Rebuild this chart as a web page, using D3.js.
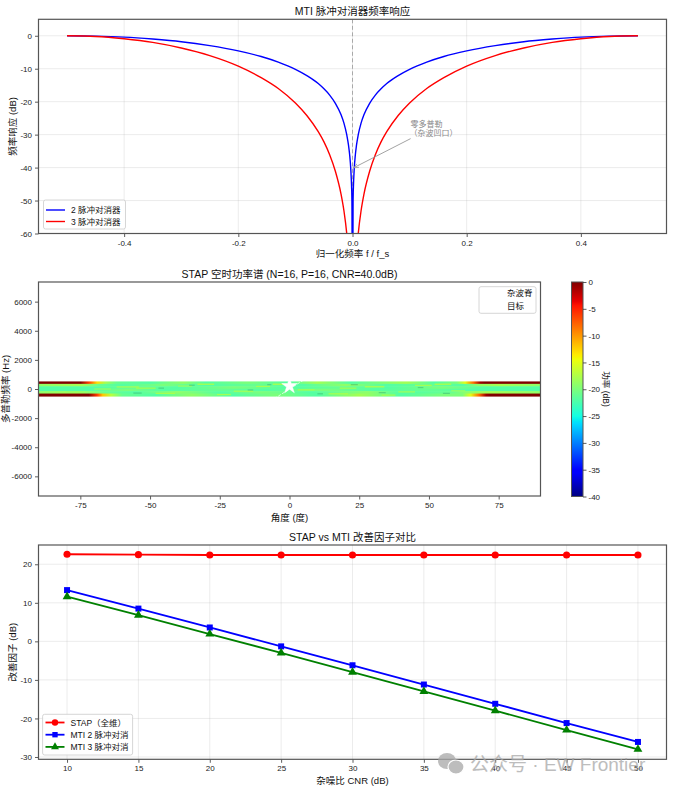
<!DOCTYPE html>
<html>
<head>
<meta charset="utf-8">
<script src="https://cdn.jsdelivr.net/npm/d3@7"></script>
<style>
  body { margin: 0; background: #fff; }
  svg { display: block; }
</style>
</head>
<body>
<script>
// ---------- data ----------

// MTI canceller frequency response (normalised frequency, dB)
const mtiFreq = [-0.5, -0.45, -0.4, -0.35, -0.3, -0.25, -0.2, -0.16, -0.13, -0.1, -0.08, -0.06, -0.05, -0.04, -0.03, -0.02, -0.015, -0.01, -0.007, -0.005, -0.003, -0.002, -0.001, 0,
                 0.001, 0.002, 0.003, 0.005, 0.007, 0.01, 0.015, 0.02, 0.03, 0.04, 0.05, 0.06, 0.08, 0.1, 0.13, 0.16, 0.2, 0.25, 0.3, 0.35, 0.4, 0.45, 0.5];
const mti2Resp = [0, -0.1, -0.4, -1.0, -1.8, -3.0, -4.6, -6.3, -8.0, -10.2, -12.1, -14.5, -16.1, -18.0, -20.5, -24.0, -26.5, -30.1, -33.2, -36.1, -40.5, -44.0, -50.1, -100,
                  -50.1, -44.0, -40.5, -36.1, -33.2, -30.1, -26.5, -24.0, -20.5, -18.0, -16.1, -14.5, -12.1, -10.2, -8.0, -6.3, -4.6, -3.0, -1.8, -1.0, -0.4, -0.1, 0];
const mti3Resp = [0, -0.2, -0.9, -2.0, -3.7, -6.0, -9.2, -12.7, -16.0, -20.4, -24.2, -29.1, -32.2, -36.1, -41.1, -48.1, -53.1, -60.1, -66.3, -72.2, -81.0, -88.0, -100, -120,
                  -100, -88.0, -81.0, -72.2, -66.3, -60.1, -53.1, -48.1, -41.1, -36.1, -32.2, -29.1, -24.2, -20.4, -16.0, -12.7, -9.2, -6.0, -3.7, -2.0, -0.9, -0.2, 0];
const topXTicks = [-0.4, -0.2, 0, 0.2, 0.4];
const topYTicks = [0, -10, -20, -30, -40, -50, -60];

// STAP space-time spectrum: doppler rows (Hz, centre) and [angle, dB] stops along each row
const bandDoppler = [417, 250, 83, -83, -250, -417];
const bandRowHz = 1000 / 6;
const bandRows = [
  [[-90, 0], [-75, 0], [-72, -6], [-69, -13], [-66, -18], [-62, -21], [-50, -22], [-38, -19], [-30, -22], [-15, -20], [0, -22], [10, -18], [22, -22], [42, -18], [52, -22], [60, -20], [63, -15], [66, -8], [68.5, -1], [70, 0], [90, 0]],
  [[-90, -19], [-75, -18], [-68, -21], [-60, -22], [-45, -20], [-30, -22], [-12, -21], [5, -22], [20, -19], [35, -22], [50, -21], [62, -22], [68, -19], [75, -18], [90, -19]],
  [[-90, -22], [-70, -22], [-55, -21], [-40, -22], [-20, -20], [0, -22], [18, -21], [35, -22], [55, -20], [70, -22], [90, -22]],
  [[-90, -22], [-72, -22], [-58, -20], [-45, -22], [-25, -21], [-8, -22], [12, -20], [30, -22], [48, -21], [66, -22], [90, -22]],
  [[-90, -19], [-76, -18], [-66, -21], [-55, -22], [-40, -19], [-25, -22], [-10, -20], [8, -22], [28, -19], [40, -22], [58, -21], [64, -19], [72, -18], [90, -19]],
  [[-90, 0], [-72, 0], [-69, -6], [-67, -12], [-64, -17], [-60, -21], [-48, -22], [-35, -19], [-20, -22], [-5, -20], [10, -22], [25, -18], [40, -22], [55, -20], [62, -20], [65, -15], [68, -8], [70.5, -1], [72, 0], [90, 0]]
];
// short streaks inside the band: [angle from, angle to, doppler Hz, dB]
const bandStreaks = [
  [-62, -54, 140, -17], [-48, -41, -300, -17], [-33, -27, 330, -16], [-20, -13, -150, -17],
  [-6, 1, 330, -16], [14, 21, -330, -17], [27, 34, 150, -16], [39, 45, -200, -17],
  [-55, -48, 60, -17], [52, 58, 330, -16], [3, 9, -60, -17], [-40, -35, 200, -18],
  [-70, -64, 0, -18], [-26, -21, -380, -17], [-12, -7, 180, -17], [18, 24, 60, -17],
  [33, 38, -420, -17], [45, 51, 250, -17], [58, 63, -120, -18], [-80, -74, -200, -19]
];
const bandDim = [
  [-56, -53, -280], [-36, -34, 260], [-15, -13, -70], [-8, -6.5, 300], [22, 24.5, 300],
  [32, 34.5, -250], [46, 48, 100], [-47, -45, 60], [10, 12, -330], [55, 57.5, -300]
];
// clutter ridge (white) and target
const ridgeAngle = [-90, -60, -30, -10, -4, 0, 4, 10, 30, 60, 90];
const ridgeDoppler = [-7000, -6062, -3500, -1216, -488, 0, 488, 1216, 3500, 6062, 7000];
const targetAngle = 0, targetDoppler = 200;
const midXTicks = [-75, -50, -25, 0, 25, 50, 75];
const midYTicks = [6000, 4000, 2000, 0, -2000, -4000, -6000];
const cbarTicks = [0, -5, -10, -15, -20, -25, -30, -35, -40];

// improvement factor vs CNR
const cnr = [10, 15, 20, 25, 30, 35, 40, 45, 50];
const stapIF = [22.6, 22.5, 22.4, 22.4, 22.4, 22.4, 22.4, 22.4, 22.4];
const mti2IF = [13.3, 8.5, 3.6, -1.3, -6.2, -11.2, -16.2, -21.2, -26.1];
const mti3IF = [11.6, 6.8, 1.9, -3.0, -8.0, -13.0, -18.0, -23.0, -28.0];
const botXTicks = [10, 15, 20, 25, 30, 35, 40, 45, 50];
const botYTicks = [20, 10, 0, -10, -20, -30];

// ---------- helpers ----------
const FONT = '"Liberation Sans", Arial, "Noto Sans CJK SC", sans-serif';
const svg = d3.select("body").append("svg")
  .attr("width", 681).attr("height", 798)
  .style("font-family", FONT);

// matplotlib jet colormap
const jetStops = [0, 0.11, 0.125, 0.34, 0.35, 0.375, 0.64, 0.65, 0.66, 0.89, 0.91, 1];
const jetColors = ["#000080", "#0000ff", "#0000ff", "#00dbff", "#00e6f7", "#15ffe2",
                   "#efff08", "#f7f500", "#ffec00", "#ff1300", "#e80000", "#800000"];
const jetT = d3.scaleLinear().domain(jetStops).range(jetColors).clamp(true);
const power = v => jetT((v + 40) / 40);

function frame(g, x, y, xTicks, yTicks, grid, fmtX, fmtY) {
  const [x0, x1] = x.range(), [y0, y1] = y.range();
  if (grid) {
    g.append("g").selectAll("line").data(xTicks).join("line")
      .attr("x1", d => x(d)).attr("x2", d => x(d)).attr("y1", y0).attr("y2", y1)
      .attr("stroke", "#b0b0b0").attr("stroke-opacity", 0.3).attr("stroke-width", 0.8);
    g.append("g").selectAll("line").data(yTicks).join("line")
      .attr("y1", d => y(d)).attr("y2", d => y(d)).attr("x1", x0).attr("x2", x1)
      .attr("stroke", "#b0b0b0").attr("stroke-opacity", 0.3).attr("stroke-width", 0.8);
  }
  const xa = g.append("g").attr("transform", `translate(0,${y0})`)
    .call(d3.axisBottom(x).tickValues(xTicks).tickFormat(fmtX).tickSize(3.5).tickPadding(3));
  const ya = g.append("g").attr("transform", `translate(${x0},0)`)
    .call(d3.axisLeft(y).tickValues(yTicks).tickFormat(fmtY).tickSize(3.5).tickPadding(3));
  [xa, ya].forEach(a => {
    a.select(".domain").remove();
    a.selectAll(".tick line").attr("stroke", "#333").attr("stroke-width", 0.8);
    a.selectAll(".tick text").attr("fill", "#222").style("font-size", "8px").style("font-family", FONT);
  });
}
function border(g, x, y) {
  const [x0, x1] = x.range(), [y0, y1] = y.range();
  g.append("rect").attr("x", x0).attr("y", y1).attr("width", x1 - x0).attr("height", y0 - y1)
    .attr("fill", "none").attr("stroke", "#555").attr("stroke-width", 1.2);
}
function labels(g, x, y, title, xl, yl, titleY, xlY, ylX) {
  const [x0, x1] = x.range(), [y0, y1] = y.range();
  const cx = (x0 + x1) / 2, cy = (y0 + y1) / 2;
  g.append("text").attr("x", cx).attr("y", titleY).attr("text-anchor", "middle")
    .style("font-size", "10.5px").attr("fill", "#111").text(title);
  g.append("text").attr("x", cx).attr("y", xlY).attr("text-anchor", "middle")
    .style("font-size", "9.5px").attr("fill", "#111").text(xl);
  g.append("text").attr("transform", `translate(${ylX || 16},${cy}) rotate(-90)`).attr("text-anchor", "middle")
    .style("font-size", "9.5px").attr("fill", "#111").text(yl);
}
function legendBox(g, x, y, w, h) {
  g.append("rect").attr("x", x).attr("y", y).attr("width", w).attr("height", h).attr("rx", 2)
    .attr("fill", "#fff").attr("fill-opacity", 0.85).attr("stroke", "#ccc").attr("stroke-width", 0.8);
}
const defs = svg.append("defs");

// ---------- chart 1: MTI frequency response ----------
{
  const g = svg.append("g");
  const x = d3.scaleLinear().domain([-0.55, 0.55]).range([38.5, 666.5]);
  const y = d3.scaleLinear().domain([-60, 5]).range([233.5, 19.3]);
  frame(g, x, y, topXTicks, topYTicks, true, d => d.toFixed(1), d => d);
  defs.append("clipPath").attr("id", "clipTop").append("rect")
    .attr("x", 38.5).attr("y", 19.3).attr("width", 628).attr("height", 214.2);
  const line = d3.line().x(d => x(d[0])).y(d => y(d[1])).curve(d3.curveMonotoneX);
  const pl = g.append("g").attr("clip-path", "url(#clipTop)");
  pl.append("line").attr("x1", x(0)).attr("x2", x(0)).attr("y1", y(5)).attr("y2", y(-60))
    .attr("stroke", "#999").attr("stroke-width", 1).attr("stroke-dasharray", "4,2.5").attr("stroke-opacity", 0.8);
  pl.append("path").attr("d", line(mtiFreq.map((f, i) => [f, mti2Resp[i]])))
    .attr("fill", "none").attr("stroke", "#0000ff").attr("stroke-width", 1.4);
  pl.append("path").attr("d", line(mtiFreq.map((f, i) => [f, mti3Resp[i]])))
    .attr("fill", "none").attr("stroke", "#ff0000").attr("stroke-width", 1.4);
  border(g, x, y);

  // annotation
  defs.append("marker").attr("id", "arrowGray").attr("viewBox", "0 0 10 10")
    .attr("refX", 9).attr("refY", 5).attr("markerWidth", 6).attr("markerHeight", 6).attr("orient", "auto")
    .append("path").attr("d", "M0,1 L10,5 L0,9").attr("fill", "none").attr("stroke", "#999").attr("stroke-width", 1.3);
  g.append("line").attr("x1", x(0.1) + 1).attr("y1", y(-30) + 4).attr("x2", x(0) + 1.5).attr("y2", y(-40))
    .attr("stroke", "#999").attr("stroke-width", 0.9).attr("marker-end", "url(#arrowGray)");
  g.append("text").attr("x", x(0.1) + 1).attr("y", y(-30) - 8).style("font-size", "8px").attr("fill", "#888").text("零多普勒");
  g.append("text").attr("x", x(0.1)).attr("y", y(-30) + 1.5).style("font-size", "8px").attr("fill", "#888").text("（杂波凹口）");

  legendBox(g, 43.5, 200, 82, 29);
  [["2 脉冲对消器", "#0000ff"], ["3 脉冲对消器", "#ff0000"]].forEach((d, i) => {
    const yy = 210 + i * 11.5;
    g.append("line").attr("x1", 46).attr("x2", 65).attr("y1", yy).attr("y2", yy)
      .attr("stroke", d[1]).attr("stroke-width", 1.4);
    g.append("text").attr("x", 71).attr("y", yy + 3).style("font-size", "8.5px").attr("fill", "#111").text(d[0]);
  });
  labels(g, x, y, "MTI 脉冲对消器频率响应", "归一化频率 f / f_s", "频率响应 (dB)", 15, 257);
}

// ---------- chart 2: STAP space-time spectrum ----------
{
  const g = svg.append("g");
  const x = d3.scaleLinear().domain([-90, 90]).range([38.5, 540.5]);
  const y = d3.scaleLinear().domain([-7350, 7350]).range([496, 282]);
  frame(g, x, y, midXTicks, midYTicks, false, d => d, d => d);
  defs.append("clipPath").attr("id", "clipMid").append("rect")
    .attr("x", 38.5).attr("y", 282).attr("width", 502).attr("height", 214);
  const pl = g.append("g").attr("clip-path", "url(#clipMid)");

  bandRows.forEach((row, i) => {
    const grad = defs.append("linearGradient").attr("id", "row" + i)
      .attr("gradientUnits", "userSpaceOnUse")
      .attr("x1", x(-90)).attr("x2", x(90)).attr("y1", 0).attr("y2", 0);
    grad.selectAll("stop").data(row).join("stop")
      .attr("offset", d => (d[0] + 90) / 180)
      .attr("stop-color", d => power(d[1]));
    const top = y(bandDoppler[i] + bandRowHz / 2), bot = y(bandDoppler[i] - bandRowHz / 2);
    pl.append("rect").attr("x", x(-90)).attr("width", x(90) - x(-90))
      .attr("y", top - 0.3).attr("height", bot - top + 0.6).attr("fill", `url(#row${i})`);
  });
  pl.append("g").selectAll("rect").data(bandStreaks).join("rect")
    .attr("x", d => x(d[0])).attr("width", d => x(d[1]) - x(d[0]))
    .attr("y", d => y(d[2]) - 0.6).attr("height", 1.2)
    .attr("fill", d => power(d[3])).attr("opacity", 0.75);
  pl.append("g").selectAll("rect").data(bandDim).join("rect")
    .attr("x", d => x(d[0])).attr("width", d => x(d[1]) - x(d[0]))
    .attr("y", d => y(d[2]) - 0.6).attr("height", 1.2)
    .attr("fill", d3.color(power(-22)).darker(1.2)).attr("opacity", 0.45);

  pl.append("path")
    .attr("d", d3.line().x((d, i) => x(ridgeAngle[i])).y(d => y(d))(ridgeDoppler))
    .attr("fill", "none").attr("stroke", "#fff").attr("stroke-width", 1).attr("stroke-opacity", 0.7)
    .attr("stroke-dasharray", "3,1.5");
  const star = d3.symbol().type(d3.symbolStar).size(75);
  pl.append("path").attr("d", star())
    .attr("transform", `translate(${x(targetAngle)},${y(targetDoppler)})`)
    .attr("fill", "#fff").attr("stroke", "#fff").attr("stroke-width", 0.5);
  border(g, x, y);

  // legend (white handles)
  legendBox(g, 479, 286.7, 57, 26.6);
  g.append("line").attr("x1", 483).attr("x2", 501).attr("y1", 292.5).attr("y2", 292.5)
    .attr("stroke", "#fff").attr("stroke-width", 1.5).attr("stroke-dasharray", "3,1.5");
  g.append("path").attr("d", d3.symbol().type(d3.symbolStar).size(45)())
    .attr("transform", "translate(492,305.5)").attr("fill", "#fff");
  g.append("text").attr("x", 507).attr("y", 295.5).style("font-size", "8.5px").attr("fill", "#111").text("杂波脊");
  g.append("text").attr("x", 507).attr("y", 308.5).style("font-size", "8.5px").attr("fill", "#111").text("目标");

  labels(g, x, y, "STAP 空时功率谱 (N=16, P=16, CNR=40.0dB)", "角度 (度)", "多普勒频率 (Hz)", 278, 521, 9);

  // colorbar
  const cy = d3.scaleLinear().domain([-40, 0]).range([496.5, 282]);
  const cg = defs.append("linearGradient").attr("id", "cbar")
    .attr("x1", 0).attr("x2", 0).attr("y1", 1).attr("y2", 0);
  cg.selectAll("stop").data(jetStops).join("stop")
    .attr("offset", d => d).attr("stop-color", (d, i) => jetColors[i]);
  g.append("rect").attr("x", 571.5).attr("y", 282).attr("width", 11.5).attr("height", 214.5)
    .attr("fill", "url(#cbar)").attr("stroke", "#555").attr("stroke-width", 1);
  const ca = g.append("g").attr("transform", "translate(583,0)")
    .call(d3.axisRight(cy).tickValues(cbarTicks).tickFormat(d => d).tickSize(3.5).tickPadding(2));
  ca.select(".domain").remove();
  ca.selectAll(".tick line").attr("stroke", "#333").attr("stroke-width", 0.8);
  ca.selectAll(".tick text").attr("fill", "#222").style("font-size", "8px").style("font-family", FONT);
  g.append("text").attr("transform", "translate(603,389) rotate(90)").attr("text-anchor", "middle")
    .style("font-size", "8.5px").attr("fill", "#111").text("功率 (dB)");
}

// ---------- chart 3: improvement factor ----------
{
  const g = svg.append("g");
  const x = d3.scaleLinear().domain([8, 52]).range([38.5, 666.5]);
  const y = d3.scaleLinear().domain([-30.6, 25]).range([759.3, 545]);
  frame(g, x, y, botXTicks, botYTicks, true, d => d, d => d);
  const line = d3.line().x((d, i) => x(cnr[i])).y(d => y(d));
  const series = [
    { vals: stapIF, color: "#ff0000", sym: d3.symbolCircle, size: 40, name: "STAP（全维）" },
    { vals: mti2IF, color: "#0000ff", sym: d3.symbolSquare, size: 36, name: "MTI 2 脉冲对消" },
    { vals: mti3IF, color: "#008000", sym: d3.symbolTriangle, size: 34, name: "MTI 3 脉冲对消" }
  ];
  series.forEach(s => {
    g.append("path").attr("d", line(s.vals)).attr("fill", "none")
      .attr("stroke", s.color).attr("stroke-width", 1.8);
    g.append("g").selectAll("path").data(s.vals).join("path")
      .attr("d", d3.symbol().type(s.sym).size(s.size)())
      .attr("transform", (d, i) => `translate(${x(cnr[i])},${y(d)})`)
      .attr("fill", s.color);
  });
  border(g, x, y);

  legendBox(g, 42.6, 714.3, 90, 40.7);
  series.forEach((s, i) => {
    const yy = 722.5 + i * 12.2;
    g.append("line").attr("x1", 45.5).attr("x2", 64.5).attr("y1", yy).attr("y2", yy)
      .attr("stroke", s.color).attr("stroke-width", 1.8);
    g.append("path").attr("d", d3.symbol().type(s.sym).size(s.size * 0.8)())
      .attr("transform", `translate(55,${yy})`).attr("fill", s.color);
    g.append("text").attr("x", 70.5).attr("y", yy + 3).style("font-size", "8.5px").attr("fill", "#111").text(s.name);
  });
  labels(g, x, y, "STAP vs MTI 改善因子对比", "杂噪比 CNR (dB)", "改善因子 (dB)", 541, 784);

  // watermark (overlays the tick labels, as in the source image)
  const wm = svg.append("g").attr("opacity", 0.75);
  wm.append("ellipse").attr("cx", 447).attr("cy", 761).attr("rx", 9).attr("ry", 8).attr("fill", "#a8a8a8");
  wm.append("ellipse").attr("cx", 456).attr("cy", 767).attr("rx", 8).attr("ry", 7).attr("fill", "#a8a8a8")
    .attr("stroke", "#fff").attr("stroke-width", 1.2);
  wm.append("text").attr("x", 470).attr("y", 771).style("font-size", "19px").attr("fill", "#a8a8a8")
    .text("公众号 · EW Frontier");
}
</script>
</body>
</html>
